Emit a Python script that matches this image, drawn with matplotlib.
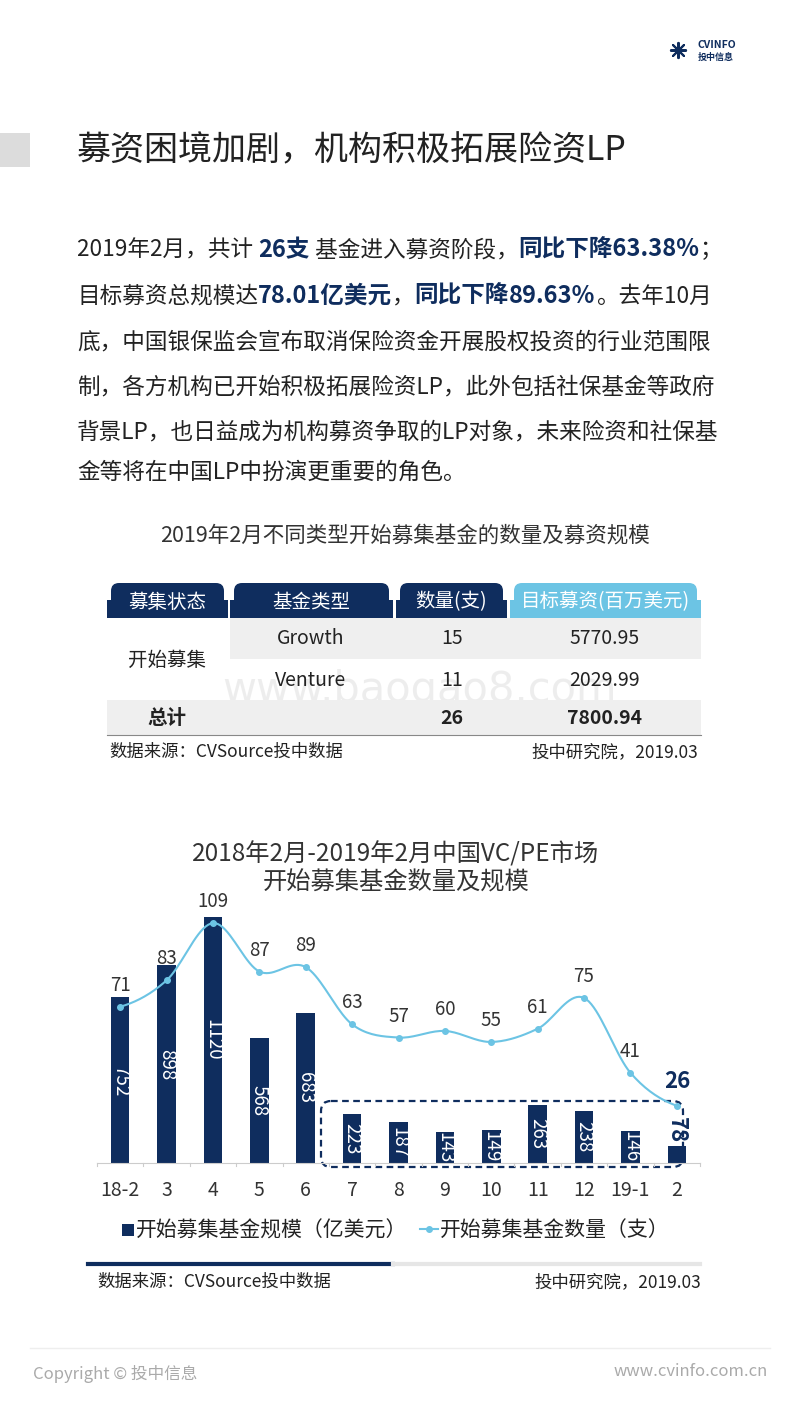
import matplotlib
matplotlib.use("Agg")
import matplotlib.pyplot as plt
import numpy as np
from matplotlib.patches import Rectangle, FancyBboxPatch

FONT = "Noto Sans CJK SC"
plt.rcParams["font.family"] = FONT
NAVY = "#0f2d5e"
CYAN = "#6cc4e4"

months = ["18-2", "3", "4", "5", "6", "7", "8", "9", "10", "11", "12", "19-1", "2"]
scale = [752, 898, 1120, 568, 683, 223, 187, 143, 149, 263, 238, 146, 78]
count = [71, 83, 109, 87, 89, 63, 57, 60, 55, 61, 75, 41, 26]

tbl_header = ["募集状态", "基金类型", "数量(支)", "目标募资(百万美元)"]
tbl_types = ["Growth", "Venture"]
tbl_counts = [15, 11]
tbl_amounts = ["5770.95", "2029.99"]
tbl_total = ["总计", "26", "7800.94"]

W, H = 800, 1422
fig = plt.figure(figsize=(8, 14.22), dpi=100)
bg = fig.add_axes([0, 0, 1, 1])
bg.set_xlim(0, W); bg.set_ylim(H, 0); bg.axis("off")

def T(x, y, s, size=15, color="#222222", weight="normal", ha="left", va="center", **kw):
    return bg.text(x, y, s, fontsize=size, color=color, weight=weight, ha=ha, va=va, **kw)

# header
bg.add_patch(Rectangle((0, 133), 30, 34, color="#dcdcdc", lw=0))
T(77, 151, "募资困境加剧，机构积极拓展险资LP", size=24.5, color="#222222")
T(698, 45, "CVINFO", size=7.5, color=NAVY, weight="bold")
T(698, 57, "投中信息", size=6.5, color=NAVY, weight="bold")
bg.scatter([678], [50], s=120, marker=(8, 2, 0), color=NAVY, lw=1.5)

# paragraph with mixed runs
fig.canvas.draw()
r = fig.canvas.get_renderer()
inv = bg.transData.inverted()
def runs(y, parts, x0=77):
    x = x0
    for s, st in parts:
        if st == "b":
            t = T(x, y, s, size=17, color=NAVY, weight="bold")
        else:
            t = T(x, y, s, size=16.3, color="#222222")
        bb = t.get_window_extent(renderer=r)
        x = inv.transform((bb.x1, 0))[0]

runs(250, [("2019年2月，共计 ", "n"), ("26支", "b"), (" 基金进入募资阶段，", "n"), ("同比下降63.38%", "b"), ("；", "n")])
runs(296, [("目标募资总规模达", "n"), ("78.01亿美元", "b"), ("，", "n"), ("同比下降", "b"), ("89.63%", "b"), ("。去年10月", "n")])
runs(342, [("底，中国银保监会宣布取消保险资金开展股权投资的行业范围限", "n")])
runs(387, [("制，各方机构已开始积极拓展险资LP，此外包括社保基金等政府", "n")])
runs(432, [("背景LP，也日益成为机构募资争取的LP对象，未来险资和社保基", "n")])
runs(472, [("金等将在中国LP中扮演更重要的角色。", "n")])

# table
T(405, 536, "2019年2月不同类型开始募集基金的数量及募资规模", size=15.5, color="#333333", ha="center")
cols = [(107, 228), (230, 393), (396, 507), (510, 701)]
for i, (a, b) in enumerate(cols):
    c = CYAN if i == 3 else NAVY
    bg.add_patch(FancyBboxPatch((a + 4, 583), b - a - 8, 33, boxstyle="round,pad=0,rounding_size=8",
                                fc=c, ec=c, lw=0))
    bg.add_patch(Rectangle((a, 600), b - a, 18, color=c, lw=0))
    T((a + b) / 2, 602, tbl_header[i], size=14, color="white", ha="center")
bg.add_patch(Rectangle((230, 618), 471, 41, color="#efefef", lw=0))
bg.add_patch(Rectangle((107, 700), 594, 35, color="#efefef", lw=0))
bg.plot([107, 701], [735, 735], color="#888888", lw=0.8)
T(167, 660, "开始募集", size=14, ha="center")
for j in range(2):
    y = 639 + 41 * j
    T(311, y, tbl_types[j], size=14, ha="center")
    T(452, y, str(tbl_counts[j]), size=14, ha="center")
    T(605, y, tbl_amounts[j], size=14, ha="center")
T(167, 718, tbl_total[0], size=14, weight="bold", ha="center")
T(452, 718, tbl_total[1], size=14, weight="bold", ha="center")
T(605, 718, tbl_total[2], size=14, weight="bold", ha="center")
T(109, 752, "数据来源：CVSource投中数据", size=12.5)
T(698, 752, "投中研究院，2019.03", size=12.5, ha="right")
T(420, 690, "www.baogao8.com", size=30, color="#dddddd", ha="center", alpha=0.5, family="DejaVu Sans", zorder=0)

# chart title
T(396, 855, "2018年2月-2019年2月中国VC/PE市场", size=17.5, color="#333333", ha="center")
T(396, 883, "开始募集基金数量及规模", size=17.5, color="#333333", ha="center")

# chart axes
x0, x1, yb, yt = 97, 700, 1163, 900
ax = fig.add_axes([x0 / W, 1 - yb / H, (x1 - x0) / W, (yb - yt) / H])
ax.patch.set_alpha(0)
n = len(months)
xs = np.arange(n)
ax.set_xlim(-0.5, n - 0.5)
ax.set_ylim(0, 1195)
ax.bar(xs, scale, width=0.4, color=NAVY)
for s in ["top", "right", "left"]:
    ax.spines[s].set_visible(False)
ax.spines["bottom"].set_color("#cccccc")
ax.set_yticks([])
ax.set_xticks(xs)
ax.set_xticklabels(months, fontsize=14, color="#333333")
ax.tick_params(axis="x", length=0, pad=12)
for k in range(n + 1):
    ax.plot([k - 0.5, k - 0.5], [0, -15], color="#cccccc", lw=0.8, clip_on=False)
for i, v in enumerate(scale[:-1]):
    ax.text(i, v / 2, str(v), rotation=-90, ha="center", va="center", color="white", fontsize=13.5)
ax.text(n - 1, scale[-1] + 12, str(scale[-1]), rotation=-90, ha="center", va="bottom",
        color=NAVY, fontsize=16, weight="bold")

ax2 = ax.twinx()
ax2.set_ylim(0, 119.5)
ax2.axis("off")
px, py = [], []
P = np.array(count, float)
for i in range(n - 1):
    p0 = P[max(i - 1, 0)]; p1 = P[i]; p2 = P[i + 1]; p3 = P[min(i + 2, n - 1)]
    t = np.linspace(0, 1, 20)
    yy = 0.5 * (2 * p1 + (-p0 + p2) * t + (2 * p0 - 5 * p1 + 4 * p2 - p3) * t ** 2 + (-p0 + 3 * p1 - 3 * p2 + p3) * t ** 3)
    px.extend(i + t); py.extend(yy)
ax2.plot(px, py, color=CYAN, lw=1.5)
ax2.plot(xs, count, "o", color=CYAN, ms=4)
for i, v in enumerate(count[:-1]):
    ax2.text(i, v + 5, str(v), ha="center", va="bottom", fontsize=13.5, color="#333333")
ax2.text(n - 1, count[-1] + 6, str(count[-1]), ha="center", va="bottom", fontsize=16,
         color=NAVY, weight="bold")

bg.add_patch(FancyBboxPatch((321, 1101), 362, 66, boxstyle="round,pad=0,rounding_size=10",
                            fc="none", ec=NAVY, lw=1.6, ls=(0, (3, 2)), zorder=5))

# legend
bg.add_patch(Rectangle((122, 1224), 12, 12, color=NAVY, lw=0))
T(136, 1231, "开始募集基金规模（亿美元）", size=15)
bg.plot([420, 438], [1229, 1229], color=CYAN, lw=1.5)
bg.plot([429], [1229], "o", color=CYAN, ms=4)
T(440, 1231, "开始募集基金数量（支）", size=15)

bg.plot([88, 393], [1264, 1264], color=NAVY, lw=3)
bg.plot([393, 700], [1264, 1264], color="#e6e6e6", lw=3)
T(97, 1282, "数据来源：CVSource投中数据", size=12.5)
T(701, 1282, "投中研究院，2019.03", size=12.5, ha="right")

bg.plot([30, 770], [1348, 1348], color="#eeeeee", lw=1)
T(33, 1374, "Copyright © 投中信息", size=12, color="#aaaaaa")
T(768, 1372, "www.cvinfo.com.cn", size=12, color="#aaaaaa", ha="right")

fig.savefig("out.png", dpi=100)
